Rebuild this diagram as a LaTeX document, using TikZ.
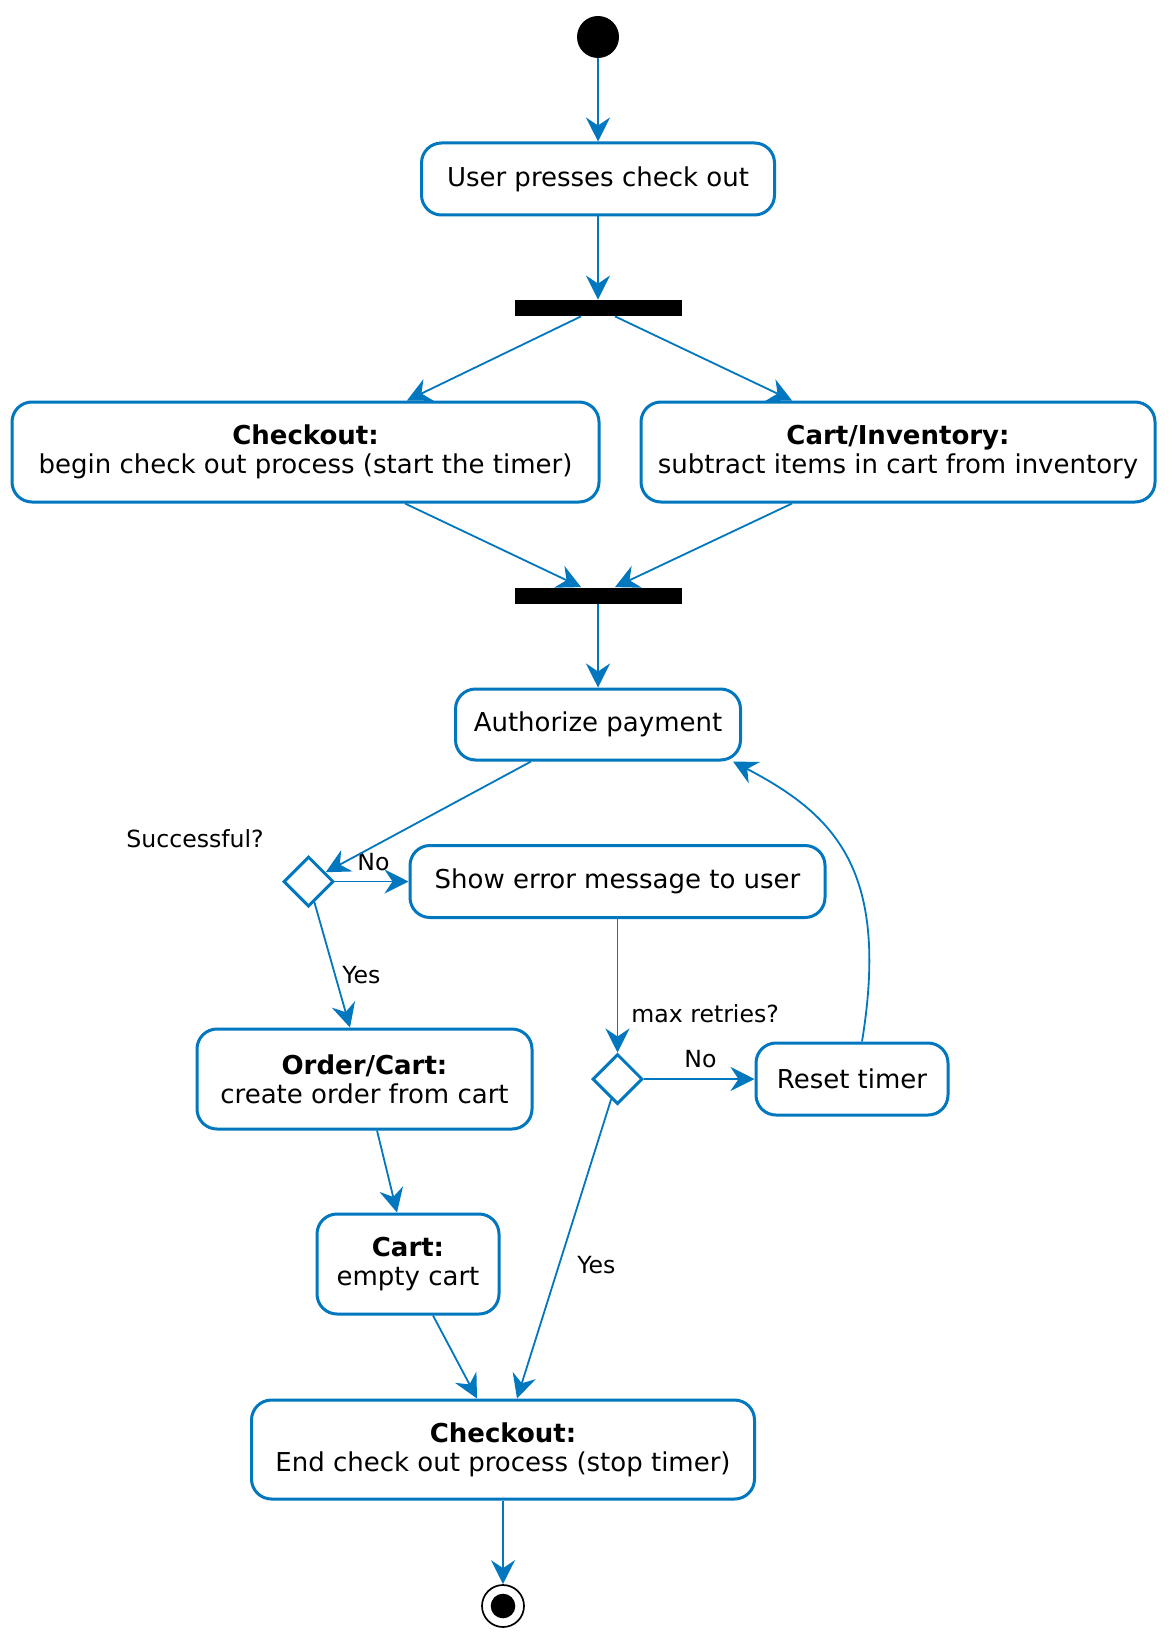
\documentclass[tikz,border=0pt]{standalone}
\usepackage{fontspec}
\setmainfont{DejaVu Sans}
\usetikzlibrary{shapes.geometric,arrows.meta,calc}
\definecolor{umlblue}{HTML}{0077BE}
\begin{document}
\begin{tikzpicture}[x=0.5pt,y=-0.5pt,
  act/.style={draw=umlblue, line width=1.5pt, rounded corners=10pt, fill=white,
    align=center, inner sep=0pt, font=\fontsize{13}{14.5}\selectfont},
  bar/.style={fill=black, draw=none, minimum width=83.5pt, minimum height=8pt, inner sep=0pt},
  decision/.style={shape=diamond, draw=umlblue, line width=1.5pt, fill=white,
    minimum width=25pt, minimum height=25pt, inner sep=0pt},
  conn/.style={draw=umlblue, line width=0.9pt,
    -{Stealth[length=12pt,width=12pt,inset=4pt]}},
  lbl/.style={font=\fontsize{11.8}{14}\selectfont, inner sep=0pt, anchor=base west}]
\fill[white] (0,0) rectangle (1175,1647);
\useasboundingbox (0,0) rectangle (1175,1647);

% nodes
\node[circle, fill=black, minimum size=21pt, inner sep=0pt] (start) at (598,37) {};
\node[act, minimum width=176.5pt, minimum height=36pt] (user) at (598,179) {User presses check out};
\node[bar] (fork) at (598,308) {};
\node[act, minimum width=293.5pt, minimum height=50pt] (co1) at (305.5,452)
  {{\bfseries Checkout:}\\begin check out process (start the timer)};
\node[act, minimum width=257pt, minimum height=50pt] (ci) at (898,452)
  {{\bfseries Cart/Inventory:}\\subtract items in cart from inventory};
\node[bar] (join) at (598,595.5) {};
\node[act, minimum width=142.5pt, minimum height=35.5pt] (auth) at (598,724.5) {Authorize payment};
\node[decision] (d1) at (308.5,881.5) {};
\node[act, minimum width=207.5pt, minimum height=36pt] (err) at (617.5,881.5) {Show error message to user};
\node[act, minimum width=167.5pt, minimum height=50pt] (oc) at (364.5,1079)
  {{\bfseries Order/Cart:}\\create order from cart};
\node[decision] (d2) at (617.5,1079) {};
\node[act, minimum width=96pt, minimum height=36pt] (reset) at (852,1079) {Reset timer};
\node[act, minimum width=91pt, minimum height=50pt] (cart) at (408,1264)
  {{\bfseries Cart:}\\empty cart};
\node[act, minimum width=251.5pt, minimum height=49.5pt] (co2) at (503,1449.5)
  {{\bfseries Checkout:}\\End check out process (stop timer)};
\node[circle, draw=black, line width=0.85pt, fill=white, minimum size=21pt, inner sep=0pt] (end) at (503,1606) {};
\node[circle, fill=black, minimum size=12.3pt, inner sep=0pt] (endin) at (end.center) {};

% labels
\node[lbl] (lsucc) at (126,847) {Successful?};
\node[lbl] (lno1) at (357,870) {No};
\node[lbl] (lyes1) at (342,983) {Yes};
\node[lbl] (lmax) at (631,1022) {max retries?};
\node[lbl] (lno2) at (684,1067) {No};
\node[lbl] (lyes2) at (577,1273) {Yes};

% connectors
\draw[conn] (start.south) -- (user.north);
\draw[conn] (user.south) -- (fork.north);
\draw[conn] ($(fork.south)+(-17,0)$) -- ($(co1.north)+(101.5,0)$);
\draw[conn] ($(fork.south)+(17,0)$) -- ($(ci.north)+(-106,0)$);
\draw[conn] ($(co1.south)+(99.5,0)$) -- ($(join.north)+(-17,0)$);
\draw[conn] ($(ci.south)+(-106,0)$) -- ($(join.north)+(17,0)$);
\draw[conn] (join.south) -- (auth.north);
\draw[conn] ($(auth.south)+(-67,0)$) -- (d1);
\draw[conn] (d1.east) -- (err.west);
\draw[conn] (d1) -- ($(oc.north)+(-14.5,0)$);
\draw[conn] (err.south) -- (d2.north);
\draw[conn] (d2.east) -- (reset.west);
\draw[conn] (d2) -- ($(co2.north)+(14,0)$);
\draw[conn] ($(oc.south)+(12.5,0)$) -- ($(cart.north)+(-11,0)$);
\draw[conn] ($(cart.south)+(25,0)$) -- ($(co2.north)+(-26,0)$);
\draw[conn] (co2.south) -- (end.north);
\draw[conn] ($(reset.north)+(10,0)$) .. controls (890,870) and (835,815) .. ($(auth.south east)+(-9,0)$);
\end{tikzpicture}
\end{document}
